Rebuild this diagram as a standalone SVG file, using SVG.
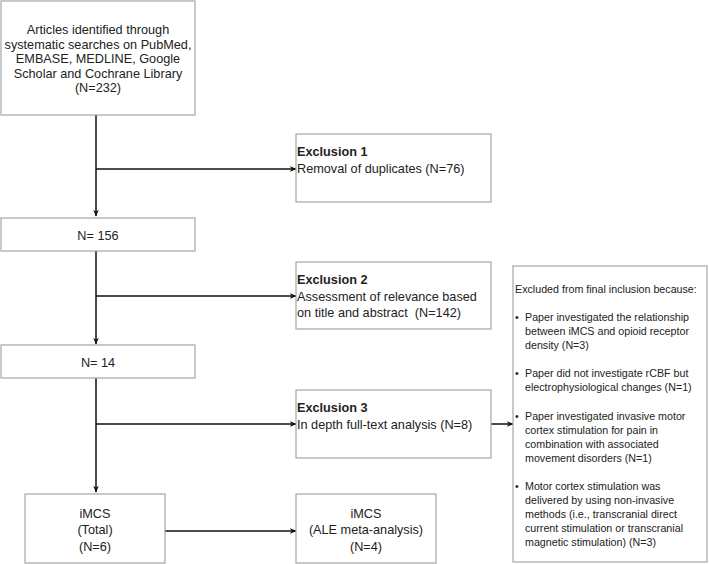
<svg xmlns="http://www.w3.org/2000/svg" width="709" height="564" viewBox="0 0 709 564">
<style>
.box{fill:#fff;stroke:#a6a6a6;stroke-width:1.2}
.t{font-family:"Liberation Sans",Arial,sans-serif;font-size:12.7px;fill:#222}
.c{text-anchor:middle}
.b{font-weight:bold}
.s{font-family:"Liberation Sans",Arial,sans-serif;font-size:10.7px;fill:#222}
.ln{fill:none;stroke:#111;stroke-width:1.5}
</style>
<defs>
<marker id="ah" viewBox="0 0 10 10" refX="9" refY="5" markerWidth="7" markerHeight="7" markerUnits="userSpaceOnUse" orient="auto">
<path d="M0,1 L10,5 L0,9 L3,5 Z" fill="#111"/>
</marker>
</defs>
<rect width="709" height="564" fill="#fff"/>
<g id="connectors">
<path class="ln" d="M96,115 V216" marker-end="url(#ah)"/>
<path class="ln" d="M96,169 H296" marker-end="url(#ah)"/>
<path class="ln" d="M96,251 V344" marker-end="url(#ah)"/>
<path class="ln" d="M96,296 H296" marker-end="url(#ah)"/>
<path class="ln" d="M96,378 V492" marker-end="url(#ah)"/>
<path class="ln" d="M96,424 H296" marker-end="url(#ah)"/>
<path class="ln" d="M491,424 H513" marker-end="url(#ah)"/>
<path class="ln" d="M165,531 H296" marker-end="url(#ah)"/>
</g>
<g id="n-articles">
<rect class="box" x="1" y="1" width="194" height="114"/>
<text class="t c" x="98" y="34">Articles identified through</text>
<text class="t c" x="98" y="48.5">systematic searches on PubMed,</text>
<text class="t c" x="98" y="63">EMBASE, MEDLINE, Google</text>
<text class="t c" x="98" y="77.5">Scholar and Cochrane Library</text>
<text class="t c" x="98" y="92">(N=232)</text>
</g>
<g id="n-excl1">
<rect class="box" x="296" y="134" width="195" height="68"/>
<text class="t b" x="297" y="156">Exclusion 1</text>
<text class="t" x="297" y="173">Removal of duplicates (N=76)</text>
</g>
<g id="n-156">
<rect class="box" x="1" y="218" width="194" height="33"/>
<text class="t c" x="98" y="239.5">N= 156</text>
</g>
<g id="n-excl2">
<rect class="box" x="296" y="262" width="195" height="67"/>
<text class="t b" x="297" y="283.5">Exclusion 2</text>
<text class="t" x="297" y="300.5">Assessment of relevance based</text>
<text class="t" x="297" y="317">on title and abstract &#160;(N=142)</text>
</g>
<g id="n-14">
<rect class="box" x="1" y="345" width="194" height="33"/>
<text class="t c" x="98" y="366.5">N= 14</text>
</g>
<g id="n-excl3">
<rect class="box" x="296" y="390" width="195" height="68"/>
<text class="t b" x="297" y="411.5">Exclusion 3</text>
<text class="t" x="297" y="428.5">In depth full-text analysis (N=8)</text>
</g>
<g id="n-reasons">
<rect class="box" x="513" y="266" width="194" height="296"/>
<text class="s" x="515" y="293">Excluded from final inclusion because:</text>
<text class="s" x="515" y="321">•</text>
<text class="s" x="525" y="321">Paper investigated the relationship</text>
<text class="s" x="525" y="335">between iMCS and opioid receptor</text>
<text class="s" x="525" y="349">density (N=3)</text>
<text class="s" x="515" y="377">•</text>
<text class="s" x="525" y="377">Paper did not investigate rCBF but</text>
<text class="s" x="525" y="391">electrophysiological changes (N=1)</text>
<text class="s" x="515" y="420">•</text>
<text class="s" x="525" y="420">Paper investigated invasive motor</text>
<text class="s" x="525" y="434">cortex stimulation for pain in</text>
<text class="s" x="525" y="448">combination with associated</text>
<text class="s" x="525" y="462">movement disorders (N=1)</text>
<text class="s" x="515" y="490">•</text>
<text class="s" x="525" y="490">Motor cortex stimulation was</text>
<text class="s" x="525" y="504">delivered by using non-invasive</text>
<text class="s" x="525" y="518">methods (i.e., transcranial direct</text>
<text class="s" x="525" y="532">current stimulation or transcranial</text>
<text class="s" x="525" y="546">magnetic stimulation) (N=3)</text>
</g>
<g id="n-total">
<rect class="box" x="25" y="494" width="140" height="69"/>
<text class="t c" x="95" y="518">iMCS</text>
<text class="t c" x="95" y="534">(Total)</text>
<text class="t c" x="95" y="550.5">(N=6)</text>
</g>
<g id="n-ale">
<rect class="box" x="296" y="494" width="140" height="69"/>
<text class="t c" x="366" y="518">iMCS</text>
<text class="t c" x="366" y="534">(ALE meta-analysis)</text>
<text class="t c" x="366" y="550.5">(N=4)</text>
</g>
</svg>
